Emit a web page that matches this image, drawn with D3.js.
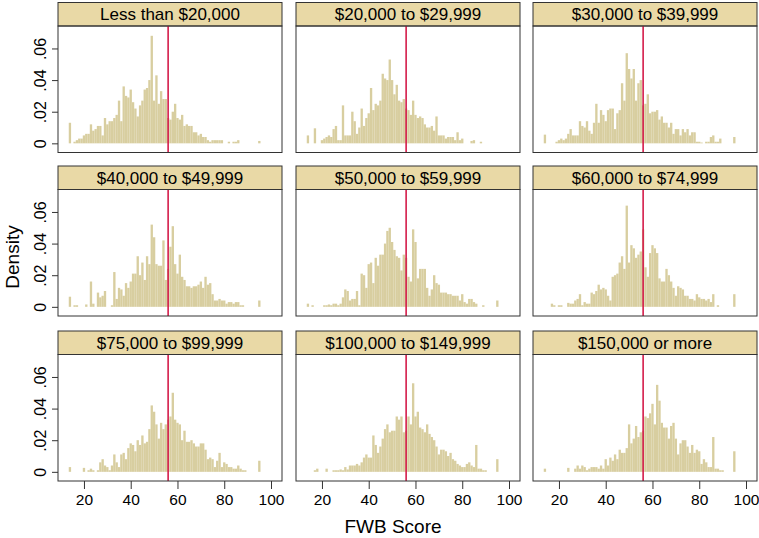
<!DOCTYPE html>
<html>
<head>
<meta charset="utf-8">
<script src="https://cdn.jsdelivr.net/npm/d3@7"></script>
<style>
body { margin: 0; background: #fff; }
text { font-family: "Liberation Sans", Arial, Helvetica, sans-serif; fill: #000; }
</style>
</head>
<body>
<div id="root"></div>
<script>
// FWB score histograms (density, bin width 1) by household income
const incomeGroups = [
	"Less than $20,000", "$20,000 to $29,999", "$30,000 to $39,999",
	"$40,000 to $49,999", "$50,000 to $59,999", "$60,000 to $74,999",
	"$75,000 to $99,999", "$100,000 to $149,999", "$150,000 or more"
];

const firstScore = 14; // densities below start at score 14 and run to 95
const meanScore = 56;
const yTicks = [0, 0.02, 0.04, 0.06];
const xTicks = [20, 40, 60, 80, 100];

const lessThan20k = [
	.013, 0, .001, .002, .003, .003, .005, .006, .006, .012,
	.008, .009, .011, .011, .005, .016, .012, .014, .014, .016,
	.018, .027, .014, .036, .030, .029, .034, .026, .022, .017,
	.024, .027, .034, .035, .040, .068, .027, .043, .025, .033,
	.028, .028, .016, .015, .020, .025, .016, .015, .018, .011,
	.012, .011, .011, .007, .007, .005, .006, .004, .004, .002,
	.001, .002, .002, .002, .002, .002, 0, 0, .001, 0,
	.001, .001, .002, 0, 0, 0, 0, 0, 0, 0,
	0, .0015
];
const from20k = [
	.005, 0, 0, .0095, 0, 0, .002, .003, .004, .005,
	.004, .009, .011, .002, .002, .024, .005, .005, .005, .020,
	.014, .006, .010, .022, .011, .016, .019, .035, .021, .025,
	.024, .027, .044, .041, .040, .053, .040, .031, .037, .027,
	.026, .028, .022, .021, .018, .027, .018, .016, .017, .016,
	.012, .010, .010, .011, .008, .017, .005, .005, .005, .003,
	.004, .004, .004, .002, .007, .002, .003, 0, 0, 0,
	.0015, .002, 0, 0, .001, 0, 0, 0, 0, 0,
	0, 0
];
const from30k = [
	.0055, 0, 0, 0, 0, .001, .002, .003, .002, .003,
	.006, .009, .005, .005, .005, .014, .011, .010, .014, .008,
	.006, .013, .025, .013, .021, .018, .014, .021, .022, .022,
	.009, .019, .021, .038, .027, .057, .047, .041, .047, .027,
	.038, .040, .024, .025, .031, .019, .020, .020, .021, .015,
	.017, .013, .013, .010, .013, .006, .009, .009, .005, .009,
	.007, .009, .005, .007, .007, .001, .001, .0005, 0, .001,
	.001, .004, .005, .001, .001, .003, 0, 0, 0, 0,
	0, .004
];
const from40k = [
	.0064, 0, .001, .001, 0, 0, 0, .0015, 0, .016,
	.002, 0, .009, .006, .007, .010, 0, 0, .001, .022,
	.005, .012, .011, .007, .015, .012, .016, .021, .021, .032,
	.020, .028, .017, .032, .027, .052, .044, .027, .026, .026,
	.042, .017, .024, .038, .051, .027, .021, .033, .019, .017,
	.013, .013, .012, .013, .013, .014, .016, .012, .019, .014,
	.015, .008, .004, .004, .005, .004, .004, .002, .003, .003,
	.002, .003, .003, .001, .001, 0, 0, 0, 0, 0,
	0, .004
];
const from50k = [
	.002, 0, .001, 0, 0, 0, 0, .001, .001, .0015,
	.001, .002, .002, .001, .002, .006, .011, .010, .004, .005,
	.005, .010, .001, .021, .020, .012, .027, .028, .015, .031,
	.026, .033, .033, .040, .048, .050, .041, .036, .032, .031,
	.023, .033, .031, .019, .016, .049, .041, .018, .024, .024,
	.024, .012, .007, .011, .020, .015, .014, .009, .009, .009,
	.008, .008, .007, .007, .007, .004, .008, .003, .002, .005,
	.005, .003, .002, 0, 0, .001, 0, 0, 0, 0,
	0, .004
];
const from60k = [
	0, 0, 0, .002, .001, 0, .001, .001, 0, 0,
	.0025, .002, .002, .004, .005, .008, .001, .003, .002, .002,
	.009, .008, .010, .014, .011, .012, .011, .007, .004, .019,
	.020, .021, .028, .032, .024, .064, .028, .039, .037, .031,
	.033, .035, .049, .025, .019, .034, .039, .037, .034, .018,
	.016, .016, .024, .020, .016, .012, .007, .013, .012, .011,
	.007, .007, .005, .005, .004, .008, .006, .005, .005, .004,
	.005, .003, .008, 0, .001, 0, 0, 0, 0, 0,
	0, .008
];
const from75k = [
	.003, 0, 0, 0, 0, 0, .0025, 0, .001, .002,
	.001, 0, .001, .006, .008, .004, .003, .001, .004, .011,
	.006, .003, .011, .012, .008, .015, .018, .017, .013, .020,
	.017, .023, .018, .019, .027, .042, .038, .030, .021, .031,
	.027, .030, .033, .035, .050, .033, .031, .030, .020, .026,
	.019, .019, .020, .018, .016, .016, .018, .018, .014, .008,
	.009, .008, .003, .007, .012, .003, .006, .005, .003, .003,
	.002, .002, .004, .002, .001, .001, 0, 0, 0, 0,
	0, .007
];
const from100k = [
	0, 0, 0, .001, .002, 0, 0, 0, .002, 0,
	0, .001, .001, .001, .0015, .001, .003, .0015, .004, .004,
	.004, .005, .004, .006, .009, .011, .009, .009, .023, .017,
	.012, .016, .021, .027, .030, .025, .026, .026, .035, .033,
	.035, .025, .026, .035, .030, .056, .035, .038, .028, .027,
	.025, .030, .024, .022, .020, .016, .011, .014, .014, .013,
	.010, .012, .008, .007, .005, .004, .003, .003, .005, .006,
	.004, .003, .017, .002, .002, .001, .001, 0, 0, 0,
	0, .008
];
const from150k = [
	.002, 0, 0, 0, 0, 0, 0, 0, 0, 0,
	.0025, 0, 0, .002, .004, .002, .004, .003, .001, .002,
	.003, .003, .003, .002, .004, .002, .008, .004, .009, .007,
	.011, .008, .014, .012, .012, .015, .030, .018, .021, .029,
	.022, .025, .026, .035, .034, .037, .043, .030, .055, .045,
	.031, .028, .028, .021, .029, .031, .021, .011, .018, .020,
	.020, .016, .012, .017, .012, .014, .013, .005, .008, .006,
	.003, .003, .022, .002, .002, .001, .001, 0, 0, 0,
	0, .013
];

const panelData = [lessThan20k, from20k, from30k, from40k, from50k, from60k, from75k, from100k, from150k];

var svg = d3.select("#root").append("svg").attr("width", 759).attr("height", 538),
	colX = [58, 296, 533],
	rowY = [2.5, 166, 331],
	panelW = 224,
	headerH = 23.5,
	plotH = 126.5;

var x = d3.scaleLinear().domain([8.9, 104.7]).range([0, panelW]);
var y = d3.scaleLinear().domain([-0.0058, 0.0742]).range([plotH, 0]);

const barFill = "#d8cea0",
	headerFill = "#e9d9a6",
	meanColor = "#d41c4a",
	frameColor = "#333";

incomeGroups.forEach((name, i) => {
	const col = i % 3, row = Math.floor(i / 3);
	const g = svg.append("g").attr("transform", `translate(${colX[col]},${rowY[row]})`);

	// strip header
	g.append("rect")
		.attr("width", panelW).attr("height", headerH)
		.attr("fill", headerFill).attr("stroke", frameColor).attr("stroke-width", 1);
	g.append("text")
		.attr("x", panelW / 2).attr("y", 17.5)
		.attr("text-anchor", "middle")
		.style("font-size", "17px")
		.text(name);

	const p = g.append("g").attr("transform", `translate(0,${headerH})`);

	const bins = panelData[i].map((d, k) => ({ score: firstScore + k, density: d }));
	p.selectAll("rect.bar")
		.data(bins.filter((b) => b.density > 0))
		.join("rect")
		.attr("class", "bar")
		.attr("x", (b) => x(b.score - 0.5))
		.attr("width", (b) => x(b.score + 0.5) - x(b.score - 0.5))
		.attr("y", (b) => y(b.density))
		.attr("height", (b) => y(0) - y(b.density))
		.attr("fill", barFill);

	p.append("line")
		.attr("x1", x(meanScore)).attr("x2", x(meanScore))
		.attr("y1", 0).attr("y2", plotH)
		.attr("stroke", meanColor).attr("stroke-width", 1.6);

	p.append("rect")
		.attr("width", panelW).attr("height", plotH)
		.attr("fill", "none").attr("stroke", frameColor).attr("stroke-width", 1);

	if (col === 0) {
		const ay = p.append("g")
			.call(d3.axisLeft(y).tickValues(yTicks).tickSize(6)
				.tickFormat((v) => v === 0 ? "0" : d3.format(".2f")(v).replace(/^0/, "")));
		ay.select(".domain").remove();
		ay.selectAll("line").attr("stroke", frameColor);
		ay.selectAll("text")
			.attr("x", null).attr("dy", null)
			.attr("transform", "translate(-12.5,0) rotate(-90)")
			.attr("text-anchor", "middle")
			.style("font-size", "16px")
			.attr("font-family", null);
	}
	if (row === 2) {
		const ax = p.append("g")
			.attr("transform", `translate(0,${plotH})`)
			.call(d3.axisBottom(x).tickValues(xTicks).tickSize(8).tickPadding(5));
		ax.select(".domain").remove();
		ax.selectAll("line").attr("stroke", frameColor);
		ax.selectAll("text").style("font-size", "15.5px").attr("font-family", null);
	}
});

svg.append("text")
	.attr("transform", "translate(18.5,257) rotate(-90)")
	.attr("text-anchor", "middle")
	.style("font-size", "19px")
	.text("Density");

svg.append("text")
	.attr("x", 393).attr("y", 533)
	.attr("text-anchor", "middle")
	.style("font-size", "19px")
	.text("FWB Score");
</script>
</body>
</html>
